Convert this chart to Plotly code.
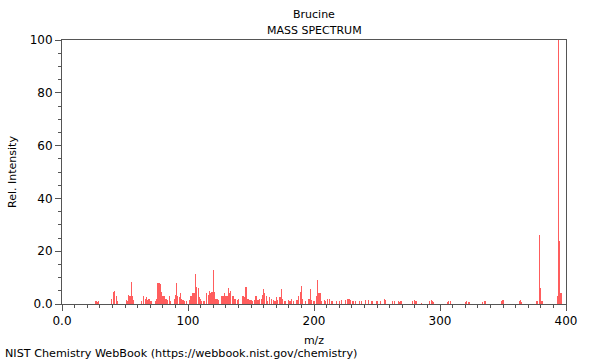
import plotly.graph_objects as go

# ---- data ----
mz_values = [27, 28, 29, 39, 41, 42, 43, 44, 51, 52, 53, 54, 55, 56, 57, 63, 65, 66, 67, 68,
             69, 70, 71, 74, 75, 76, 77, 78, 79, 80, 81, 82, 83, 84, 85, 86, 89, 90, 91, 92,
             93, 94, 95, 96, 97, 99, 101, 102, 103, 104, 105, 106, 107, 108, 109, 110, 111, 112, 113, 115,
             116, 117, 118, 119, 120, 121, 122, 123, 124, 127, 128, 129, 130, 131, 132, 133, 134, 135, 136, 137,
             138, 139, 140, 143, 144, 145, 146, 147, 148, 149, 150, 151, 153, 154, 155, 156, 157, 158, 159, 160,
             161, 162, 163, 165, 166, 168, 169, 170, 171, 173, 174, 175, 177, 180, 181, 182, 184, 186, 187, 188,
             189, 190, 191, 193, 196, 197, 198, 200, 202, 203, 204, 205, 206, 208, 209, 211, 212, 214, 215, 218,
             220, 222, 225, 227, 228, 229, 231, 233, 236, 238, 241, 243, 246, 250, 253, 256, 257, 262, 264, 267,
             268, 269, 278, 280, 281, 285, 292, 293, 294, 295, 306, 307, 308, 320, 321, 323, 334, 335, 336, 349,
             350, 363, 364, 365, 377, 379, 380, 381, 393, 394, 395, 396]
rel_intensity = [1.0, 0.6, 1.2, 2.0, 4.5, 4.8, 3.0, 1.0, 1.5, 1.2, 3.6, 3.0, 8.2, 3.2, 1.5, 1.0, 3.0, 2.0, 2.5, 1.5,
                 2.0, 1.2, 1.0, 1.0, 2.0, 8.0, 7.8, 7.5, 4.5, 3.0, 3.0, 2.0, 1.8, 1.5, 3.0, 1.0, 2.0, 3.5, 7.8, 3.0,
                 2.5, 4.0, 2.0, 1.5, 1.0, 1.0, 1.5, 3.0, 3.0, 4.0, 4.2, 11.2, 6.5, 6.0, 2.5, 2.0, 1.0, 1.0, 1.0, 4.0,
                 3.5, 5.0, 4.0, 4.5, 13.0, 4.5, 2.0, 2.0, 1.5, 3.0, 3.0, 4.0, 3.0, 3.0, 6.0, 4.0, 5.0, 3.0, 3.0, 2.0,
                 2.0, 1.5, 2.0, 3.0, 3.0, 2.5, 6.5, 2.0, 2.0, 1.5, 1.5, 1.0, 1.5, 3.0, 1.5, 1.5, 2.0, 2.0, 3.5, 5.8,
                 4.0, 3.0, 1.0, 2.5, 2.0, 1.5, 1.0, 2.5, 1.5, 2.5, 5.5, 2.0, 1.0, 1.5, 1.0, 2.0, 1.0, 1.5, 1.5, 3.0,
                 4.5, 7.0, 2.0, 1.0, 2.0, 5.5, 1.5, 1.0, 3.0, 9.0, 4.0, 4.0, 1.0, 1.5, 1.0, 2.0, 2.0, 1.3, 1.0, 1.0,
                 1.0, 1.5, 1.5, 2.0, 2.0, 1.5, 1.0, 1.0, 1.0, 1.0, 1.7, 1.7, 1.0, 1.0, 1.3, 2.0, 1.5, 1.0, 1.0, 1.0,
                 0.8, 1.0, 1.0, 1.7, 1.0, 0.5, 1.0, 1.6, 1.2, 0.8, 0.8, 1.2, 1.0, 0.8, 1.0, 0.8, 0.8, 1.2, 1.0, 1.0,
                 1.7, 1.0, 1.7, 0.8, 1.0, 26.0, 6.0, 1.0, 3.0, 100.0, 24.0, 4.0]

x_tick_vals = [0, 100, 200, 300, 400]
x_tick_text = ["0.0", "100", "200", "300", "400"]
y_tick_vals = [0, 20, 40, 60, 80, 100]
y_tick_text = ["0.0", "20", "40", "60", "80", "100"]

compound = "Brucine"
subtitle = "MASS SPECTRUM"
footer = "NIST Chemistry WebBook (https://webbook.nist.gov/chemistry)"

FONT = "DejaVu Sans"
AXCOL = "#555555"

W, H = 600, 360
ML, MR, MT, MB = 62, 34, 40, 56

fig = go.Figure()
fig.add_trace(go.Bar(
    x=mz_values, y=rel_intensity, width=0.9,
    marker=dict(color="rgba(255,30,30,0.72)", line=dict(width=0)),
    hoverinfo="x+y",
))

axis_common = dict(
    showgrid=False, zeroline=False, showline=True, linecolor=AXCOL, linewidth=1,
    mirror=True, ticks="outside", tickcolor=AXCOL, ticklen=6, tickwidth=1,
    tickfont=dict(family=FONT, size=12, color="#000"),
)

pw, ph = W - ML - MR, H - MT - MB
def px_to_paper(xp, yp):
    return (xp - ML) / pw, (H - MB - yp) / ph

ann_specs = [(compound, 314, 14, "center", 11), (subtitle, 314, 30, "center", 11),
             (footer, 3, 353, "left", 11.2)]
annotations = []
for text, xp, yp, anchor, fs in ann_specs:
    fx, fy = px_to_paper(xp, yp)
    annotations.append(dict(text=text, x=fx, y=fy, xref="paper", yref="paper",
                            xanchor=anchor, yanchor="middle", showarrow=False,
                            font=dict(family=FONT, size=fs, color="#000")))

fig.update_layout(
    width=W, height=H,
    margin=dict(l=ML, r=MR, t=MT, b=MB),
    paper_bgcolor="white", plot_bgcolor="white",
    showlegend=False, bargap=0,
    font=dict(family=FONT, size=11, color="#000"),
    xaxis=dict(range=[0, 400], tickmode="array", tickvals=x_tick_vals, ticktext=x_tick_text,
               title=dict(text="m/z", font=dict(family=FONT, size=11), standoff=8),
               minor=dict(dtick=10, ticklen=3, tickcolor=AXCOL, ticks="outside"),
               **axis_common),
    yaxis=dict(range=[0, 100], tickmode="array", tickvals=y_tick_vals, ticktext=y_tick_text,
               title=dict(text="Rel. Intensity", font=dict(family=FONT, size=11), standoff=10),
               minor=dict(dtick=5, ticklen=3, tickcolor=AXCOL, ticks="outside"),
               **axis_common),
    annotations=annotations,
)

fig.write_html("out.html", config={"displayModeBar": False},
               post_script="document.body.style.margin='0';")
